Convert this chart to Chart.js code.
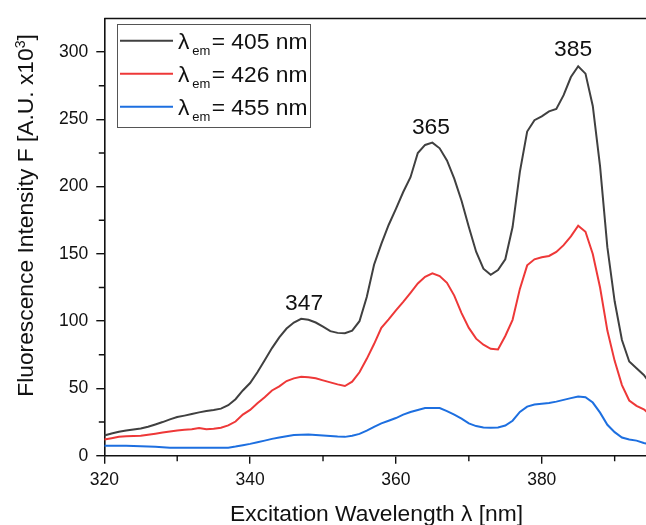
<!DOCTYPE html>
<html>
<head>
<meta charset="utf-8">
<script src="https://cdn.jsdelivr.net/npm/chart.js@4.4.1/dist/chart.umd.min.js"></script>
<style>
html,body{margin:0;padding:0;background:#fff;}
#wrap{width:646px;height:525px;position:relative;}
</style>
</head>
<body>
<div id="wrap"><canvas id="c" width="646" height="525"></canvas></div>
<script>
// ---- data ----
const wavelengths = [320,321,322,323,324,325,326,327,328,329,330,331,332,333,334,335,336,337,338,339,
  340,341,342,343,344,345,346,347,348,349,350,351,352,353,354,355,356,357,358,359,
  360,361,362,363,364,365,366,367,368,369,370,371,372,373,374,375,376,377,378,379,
  380,381,382,383,384,385,386,387,388,389,390,391,392,393,394,395];
const em405 = [15,16.5,17.8,18.8,19.5,20.2,21.5,23.2,25,27,28.7,29.8,31,32.2,33.2,34,35,37.5,42,48.5,
  54,62,71,80,88,94.5,99,101.8,101,99,96,92.6,91.3,91,93,100,118,142,157.5,171.5,
  183.5,196,207,225,231,232.7,228.5,219.5,206,189.5,170,151.6,139,134.5,138,146,170,211,241,249.4,
  252.3,256,257.7,268,281.5,289.5,284,260,215,155,114.8,86,70,65,60,53];
const em426 = [12,13,14,14.4,14.6,14.8,15.6,16.4,17.2,18,18.8,19.2,19.6,20.5,19.6,20,20.8,22.5,25.4,30.6,
  34,39,43.5,48.5,51.5,55.5,57.5,58.6,58.3,57.5,56,54.5,53,51.8,55,62,72,83,95,101.3,
  108,114.3,121,128,133,135.6,133.5,128.5,119,106,95,87,82.5,79.5,79,89,101,124,141.5,146,
  147.5,148.5,151.5,156.5,163,171,166.5,150,125,93,70.5,52.5,41,37,34.5,30];
const em455 = [7.4,7.4,7.4,7.4,7.3,7,6.8,6.6,6.3,6,5.9,5.9,5.9,5.9,5.9,5.9,5.9,6,6.8,7.8,
  8.8,10,11.2,12.5,13.5,14.5,15.3,15.6,15.8,15.4,15,14.7,14.2,14,14.8,16.2,18.6,21.5,24,26,
  28,30.5,32.5,34,35.4,35.4,35.4,33.2,30.5,27.5,24,22,21,20.7,21,22.4,26,32.5,36.5,38.1,
  38.6,39.2,40.2,41.5,42.8,44,43.5,39.5,32,23,17.5,13.5,12,11.2,9.5,8];
const seriesNames = ['405', '426', '455'];
const seriesColors = ['#404040', '#ee3838', '#1d6fe0'];
const xTicks = [320, 340, 360, 380];
const xMinorTicks = [330, 350, 370, 390];
const yTicks = [0, 50, 100, 150, 200, 250, 300];
const yMinorTicks = [25, 75, 125, 175, 225, 275];
const peakLabels = ['347', '365', '385'];
const peakLabelX = [347.4, 364.8, 384.3];
const peakLabelY = [108.6, 239.3, 297];

const FONT = '"Liberation Sans", Arial, Helvetica, sans-serif';
const toPts = arr => wavelengths.map((x, i) => ({x: x, y: arr[i]}));
const allSeries = [em405, em426, em455];

const decor = {
  id: 'decor',
  afterDraw(chart) {
    const ctx = chart.ctx, a = chart.chartArea;
    const xs = chart.scales.x, ys = chart.scales.y;
    ctx.save();
    // top frame line
    ctx.strokeStyle = '#111'; ctx.lineWidth = 1.6;
    ctx.beginPath(); ctx.moveTo(a.left, a.top); ctx.lineTo(a.right, a.top); ctx.stroke();
    // minor ticks
    ctx.lineWidth = 1.4;
    ctx.beginPath();
    yMinorTicks.forEach(v => { const p = ys.getPixelForValue(v); ctx.moveTo(a.left - 5.5, p); ctx.lineTo(a.left, p); });
    xMinorTicks.forEach(v => { const p = xs.getPixelForValue(v); if (p <= a.right) { ctx.moveTo(p, a.bottom); ctx.lineTo(p, a.bottom + 5.5); } });
    ctx.stroke();

    // peak labels
    ctx.fillStyle = '#111';
    ctx.font = '22.8px ' + FONT;
    ctx.textAlign = 'center'; ctx.textBaseline = 'alphabetic';
    peakLabels.forEach((t, i) => ctx.fillText(t, xs.getPixelForValue(peakLabelX[i]), ys.getPixelForValue(peakLabelY[i])));

    // legend
    const lx = 117.5, ly = 24.5, lw = 193, lh = 103;
    ctx.fillStyle = '#fff';
    ctx.fillRect(lx, ly, lw, lh);
    ctx.strokeStyle = '#555'; ctx.lineWidth = 1;
    ctx.strokeRect(lx, ly, lw, lh);
    seriesNames.forEach((n, i) => {
      const yy = 40.7 + i * 33;
      ctx.strokeStyle = seriesColors[i]; ctx.lineWidth = 2;
      ctx.beginPath(); ctx.moveTo(120, yy); ctx.lineTo(173, yy); ctx.stroke();
      ctx.fillStyle = '#111';
      ctx.textAlign = 'left';
      ctx.font = '22.8px ' + FONT;
      ctx.fillText('\u03bb', 178, yy + 8.6);
      ctx.font = '13px ' + FONT;
      ctx.fillText('em', 192.3, yy + 13.8);
      ctx.font = '22.8px ' + FONT;
      ctx.fillText('= ' + n + ' nm', 211.7, yy + 8.6);
    });

    // x axis title
    ctx.fillStyle = '#111';
    ctx.font = '22.8px ' + FONT;
    ctx.textAlign = 'center';
    ctx.fillText('Excitation Wavelength \u03bb [nm]', 376.5, 520.5);

    // y axis title (rotated, with superscript)
    const p1 = 'Fluorescence Intensity F [A.U. x10', sup = '3', p2 = ']';
    ctx.font = '22.8px ' + FONT; const w1 = ctx.measureText(p1).width, w3 = ctx.measureText(p2).width;
    ctx.font = '14px ' + FONT; const w2 = ctx.measureText(sup).width;
    const tot = w1 + w2 + w3;
    ctx.translate(33.3, 215.5);
    ctx.rotate(-Math.PI / 2);
    ctx.textAlign = 'left';
    let cx = -tot / 2;
    ctx.font = '22.8px ' + FONT; ctx.fillText(p1, cx, 0); cx += w1;
    ctx.font = '14px ' + FONT; ctx.fillText(sup, cx, -8.5); cx += w2;
    ctx.font = '22.8px ' + FONT; ctx.fillText(p2, cx, 0);
    ctx.restore();
  }
};

new Chart(document.getElementById('c'), {
  type: 'line',
  data: {
    datasets: allSeries.map((s, i) => ({
      label: '\u03bbem= ' + seriesNames[i] + ' nm',
      data: toPts(s),
      borderColor: seriesColors[i],
      borderWidth: 2,
      pointRadius: 0,
      tension: 0,
      fill: false
    }))
  },
  options: {
    responsive: false,
    animation: false,
    devicePixelRatio: 1,
    layout: {padding: {top: 15, right: 0, left: 0, bottom: 0}},
    plugins: {legend: {display: false}, tooltip: {enabled: false}},
    scales: {
      x: {
        type: 'linear', min: 320, max: 394.3,
        afterFit(s) { s.height = 69.3; },
        afterBuildTicks(s) { s.ticks = xTicks.map(v => ({value: v})); },
        ticks: {font: {family: FONT, size: 17.5}, color: '#111', padding: 6, maxRotation: 0, includeBounds: false},
        grid: {display: true, drawOnChartArea: false, drawTicks: true, tickLength: 8, color: '#111', lineWidth: 1.4},
        border: {display: true, color: '#111', width: 1.6}
      },
      y: {
        type: 'linear', min: 0, max: 325,
        afterFit(s) { s.width = 104.3; },
        afterBuildTicks(s) { s.ticks = yTicks.map(v => ({value: v})); },
        ticks: {font: {family: FONT, size: 17.5}, color: '#111', padding: 8, includeBounds: false},
        grid: {display: true, drawOnChartArea: false, drawTicks: true, tickLength: 8, color: '#111', lineWidth: 1.4},
        border: {display: true, color: '#111', width: 1.6}
      }
    }
  },
  plugins: [decor]
});
</script>
</body>
</html>
